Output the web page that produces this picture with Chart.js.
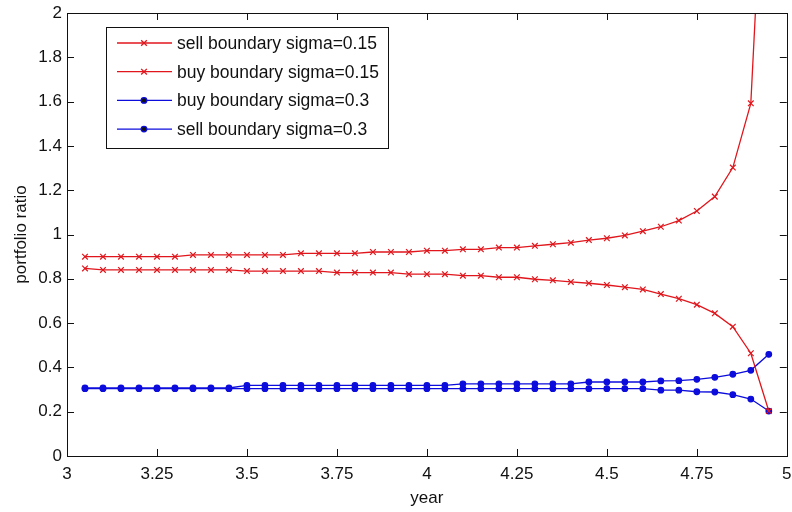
<!DOCTYPE html>
<html>
<head>
<meta charset="utf-8">
<script src="https://cdn.jsdelivr.net/npm/chart.js@4.4.1/dist/chart.umd.min.js"></script>
<style>
  html, body { margin: 0; padding: 0; background: #fff; }
  #wrap { width: 792px; height: 512px; position: relative; }
</style>
</head>
<body>
<div id="wrap"><canvas id="ratioChart"></canvas></div>
<script>
const years = [
    3.05, 3.10, 3.15, 3.20, 3.25, 3.30, 3.35, 3.40, 3.45, 3.50,
    3.55, 3.60, 3.65, 3.70, 3.75, 3.80, 3.85, 3.90, 3.95, 4.00,
    4.05, 4.10, 4.15, 4.20, 4.25, 4.30, 4.35, 4.40, 4.45, 4.50,
    4.55, 4.60, 4.65, 4.70, 4.75, 4.80, 4.85, 4.90, 4.95
];

const sellSigma015 = [
    0.900, 0.900, 0.900, 0.900, 0.900, 0.900, 0.908, 0.908, 0.908, 0.908,
    0.908, 0.908, 0.915, 0.915, 0.915, 0.915, 0.921, 0.921, 0.921, 0.927,
    0.927, 0.933, 0.933, 0.941, 0.941, 0.949, 0.956, 0.963, 0.975, 0.983,
    0.996, 1.015, 1.035, 1.063, 1.106, 1.171, 1.302, 1.592, 3.2
];

const buySigma015 = [
    0.847, 0.840, 0.840, 0.840, 0.840, 0.840, 0.840, 0.840, 0.840, 0.835,
    0.835, 0.835, 0.835, 0.835, 0.828, 0.828, 0.828, 0.828, 0.821, 0.821,
    0.821, 0.814, 0.814, 0.807, 0.807, 0.798, 0.793, 0.786, 0.780, 0.772,
    0.762, 0.752, 0.731, 0.710, 0.683, 0.644, 0.584, 0.464, 0.203
];

const buySigma03 = [
    0.304, 0.304, 0.304, 0.304, 0.304, 0.304, 0.304, 0.304, 0.304, 0.304,
    0.304, 0.304, 0.304, 0.304, 0.304, 0.304, 0.304, 0.304, 0.304, 0.304,
    0.304, 0.304, 0.304, 0.304, 0.304, 0.304, 0.304, 0.304, 0.304, 0.304,
    0.304, 0.304, 0.297, 0.297, 0.290, 0.289, 0.277, 0.257, 0.203
];

const sellSigma03 = [
    0.307, 0.307, 0.307, 0.307, 0.307, 0.307, 0.307, 0.307, 0.307, 0.319,
    0.319, 0.319, 0.319, 0.319, 0.319, 0.319, 0.319, 0.319, 0.319, 0.319,
    0.319, 0.326, 0.326, 0.326, 0.326, 0.326, 0.326, 0.326, 0.334, 0.334,
    0.334, 0.334, 0.339, 0.340, 0.346, 0.355, 0.369, 0.387, 0.459
];

const xTickLabels = ['3', '3.25', '3.5', '3.75', '4', '4.25', '4.5', '4.75', '5'];
const yTickLabels = ['0', '0.2', '0.4', '0.6', '0.8', '1', '1.2', '1.4', '1.6', '1.8', '2'];

const RED = '#e0161c';
const BLUE = '#0c0cdc';
const FONT = '"Liberation Sans", Arial, sans-serif';

const pts = arr => arr.map((v, i) => ({ x: years[i], y: v }));

// matlab-style frame: full box with ticks pointing inward
const frameBox = {
    id: 'frameBox',
    afterDatasetsDraw(chart) {
        const { ctx, chartArea: a, scales } = chart;
        const len = 7;
        ctx.save();
        ctx.strokeStyle = '#111';
        ctx.lineWidth = 1;
        ctx.beginPath();
        scales.x.ticks.forEach(t => {
            const px = Math.round(scales.x.getPixelForValue(t.value)) + 0.5;
            ctx.moveTo(px, a.bottom); ctx.lineTo(px, a.bottom - len);
            ctx.moveTo(px, a.top); ctx.lineTo(px, a.top + len);
        });
        scales.y.ticks.forEach(t => {
            const py = Math.round(scales.y.getPixelForValue(t.value)) + 0.5;
            ctx.moveTo(a.left, py); ctx.lineTo(a.left + len, py);
            ctx.moveTo(a.right, py); ctx.lineTo(a.right - len, py);
        });
        ctx.stroke();
        ctx.strokeRect(Math.round(a.left) + 0.5, Math.round(a.top) + 0.5,
            Math.round(a.right - a.left), Math.round(a.bottom - a.top));
        ctx.restore();
    }
};

// legend box drawn inside the plot, upper left
const insideLegend = {
    id: 'insideLegend',
    afterDraw(chart) {
        const { ctx } = chart;
        const box = { x: 106, y: 27, w: 282, h: 121 };
        ctx.save();
        ctx.fillStyle = '#fff';
        ctx.fillRect(box.x, box.y, box.w, box.h);
        ctx.strokeStyle = '#111';
        ctx.lineWidth = 1;
        ctx.strokeRect(box.x + 0.5, box.y + 0.5, box.w, box.h);
        ctx.font = '17.5px ' + FONT;
        ctx.textBaseline = 'middle';
        chart.data.datasets.forEach((ds, i) => {
            const y = 43 + i * 28.7;
            ctx.strokeStyle = ds.borderColor;
            ctx.lineWidth = 1.3;
            ctx.beginPath();
            ctx.moveTo(117, y); ctx.lineTo(172, y);
            ctx.stroke();
            Chart.helpers.drawPoint(ctx, {
                pointStyle: ds.pointStyle,
                radius: ds.pointRadius,
                borderWidth: ds.pointBorderWidth
            }, 144, y);
            ctx.fillStyle = '#111';
            ctx.fillText(ds.label, 177, y + 1);
        });
        ctx.restore();
    }
};

function series(label, data, color, style, radius) {
    return {
        label: label,
        data: pts(data),
        borderColor: color,
        backgroundColor: color,
        borderWidth: 1.3,
        pointStyle: style,
        pointRadius: radius,
        pointBorderWidth: 1.2,
        pointBorderColor: color,
        pointBackgroundColor: color,
        tension: 0
    };
}

new Chart(document.getElementById('ratioChart'), {
    type: 'line',
    data: {
        datasets: [
            series('sell boundary sigma=0.15', sellSigma015, RED, 'crossRot', 4),
            series('buy boundary sigma=0.15', buySigma015, RED, 'crossRot', 4),
            series('buy boundary sigma=0.3', buySigma03, BLUE, 'circle', 2.8),
            series('sell boundary sigma=0.3', sellSigma03, BLUE, 'circle', 2.8)
        ]
    },
    options: {
        responsive: true,
        maintainAspectRatio: false,
        animation: false,
        layout: { padding: { top: 13, right: 4, bottom: 0, left: 0 } },
        plugins: {
            legend: { display: false },
            tooltip: { enabled: false }
        },
        scales: {
            x: {
                type: 'linear',
                min: 3,
                max: 5,
                grid: { display: false, drawTicks: false },
                border: { display: false },
                ticks: {
                    stepSize: 0.25,
                    padding: 8,
                    maxRotation: 0,
                    color: '#111',
                    font: { family: FONT, size: 17 },
                    callback: (v, i) => xTickLabels[i]
                },
                title: {
                    display: true,
                    text: 'year',
                    color: '#111',
                    font: { family: FONT, size: 17 },
                    padding: { top: 0, bottom: 3 }
                },
                afterFit: s => { s.height = 56; s.paddingLeft = 0; s.paddingRight = 0; }
            },
            y: {
                min: 0,
                max: 2,
                grid: { display: false, drawTicks: false },
                border: { display: false },
                ticks: {
                    stepSize: 0.2,
                    padding: 5,
                    color: '#111',
                    font: { family: FONT, size: 17 },
                    callback: (v, i) => yTickLabels[i]
                },
                title: {
                    display: true,
                    text: 'portfolio ratio',
                    color: '#111',
                    font: { family: FONT, size: 17 },
                    padding: { top: 11, bottom: 0 }
                },
                afterFit: s => { s.width = 67; s.paddingTop = 0; s.paddingBottom = 0; }
            }
        }
    },
    plugins: [frameBox, insideLegend]
});
</script>
</body>
</html>
